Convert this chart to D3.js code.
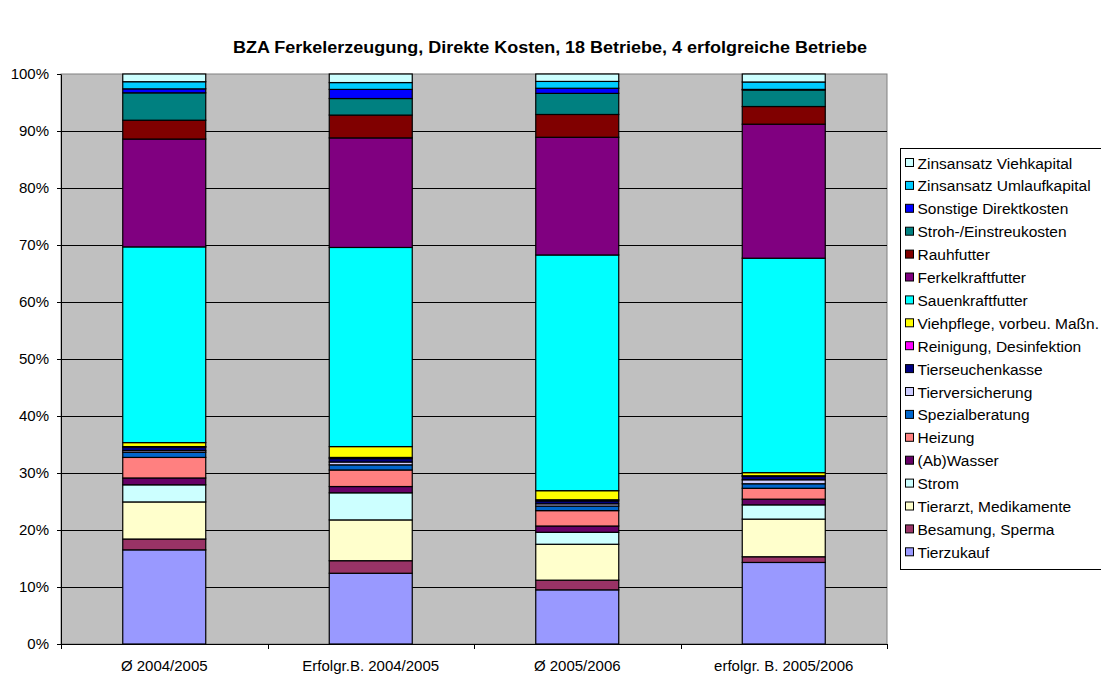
<!DOCTYPE html>
<html>
<head>
<meta charset="utf-8">
<script src="https://cdn.jsdelivr.net/npm/d3@7"></script>
<style>
  body { margin: 0; background: #fff; }
  svg { font-family: "Liberation Sans", Arial, sans-serif; }
</style>
</head>
<body>
<div id="chart"></div>
<script>
// categories on the x axis
var categories = ["Ø 2004/2005", "Erfolgr.B. 2004/2005", "Ø 2005/2006", "erfolgr. B. 2005/2006"];

// series, bottom of the stack first
var seriesNames = [
  "Tierzukauf", "Besamung, Sperma", "Tierarzt, Medikamente", "Strom", "(Ab)Wasser",
  "Heizung", "Spezialberatung", "Tierversicherung", "Tierseuchenkasse",
  "Reinigung, Desinfektion", "Viehpflege, vorbeu. Maßn.", "Sauenkraftfutter",
  "Ferkelkraftfutter", "Rauhfutter", "Stroh-/Einstreukosten", "Sonstige Direktkosten",
  "Zinsansatz Umlaufkapital", "Zinsansatz Viehkapital"
];

var seriesColors = [
  "#9999FF", "#993366", "#FFFFCC", "#CCFFFF", "#660066",
  "#FF8080", "#0066CC", "#CCCCFF", "#000080",
  "#FF00FF", "#FFFF00", "#00FFFF",
  "#800080", "#800000", "#008080", "#0000FF",
  "#00CCFF", "#CCFFFF"
];

// share of costs in %, one value per category
var tierzukauf   = [16.5, 12.4, 9.5, 14.3];
var besamung     = [1.9, 2.2, 1.7, 1.0];
var tierarzt     = [6.5, 7.15, 6.3, 6.6];
var strom        = [3.0, 4.75, 2.1, 2.5];
var wasser       = [1.2, 1.1, 1.1, 1.0];
var heizung      = [3.6, 2.9, 2.7, 1.9];
var spezial      = [0.9, 0.9, 0.8, 0.8];
var versicherung = [0.3, 0.5, 0.4, 0.7];
var seuchen      = [0.6, 0.6, 0.5, 0.6];
var reinigung    = [0.1, 0.2, 0.2, 0.1];
var viehpflege   = [0.7, 1.9, 1.6, 0.55];
var sauenfutter  = [34.3, 34.9, 41.35, 37.6];
var ferkelfutter = [18.9, 19.2, 20.65, 23.5];
var rauhfutter   = [3.3, 4.0, 4.0, 3.1];
var stroh        = [4.8, 2.9, 3.7, 2.9];
var sonstige     = [0.7, 1.6, 0.9, 0.1];
var zinsUmlauf   = [1.25, 1.2, 1.2, 1.3];
var zinsVieh     = [1.35, 1.5, 1.3, 1.4];

var seriesValues = [tierzukauf, besamung, tierarzt, strom, wasser, heizung, spezial,
  versicherung, seuchen, reinigung, viehpflege, sauenfutter, ferkelfutter, rauhfutter,
  stroh, sonstige, zinsUmlauf, zinsVieh];

var yTicks = [0, 0.1, 0.2, 0.3, 0.4, 0.5, 0.6, 0.7, 0.8, 0.9, 1];

// build rows for d3.stack
var rows = categories.map(function(c, i) {
  var r = {cat: c};
  seriesNames.forEach(function(s, j) { r[s] = seriesValues[j][i]; });
  return r;
});

var W = 1101, H = 674;
var margin = {top: 74, left: 61},
    width = 826,
    height = 570;

var svg = d3.select("#chart").append("svg")
    .attr("width", W)
    .attr("height", H);

svg.append("text")
    .attr("x", 550)
    .attr("y", 53)
    .attr("text-anchor", "middle")
    .attr("textLength", 634)
    .attr("lengthAdjust", "spacingAndGlyphs")
    .style("font-size", "16px")
    .style("font-weight", "bold")
    .text("BZA Ferkelerzeugung, Direkte Kosten, 18 Betriebe, 4 erfolgreiche Betriebe");

var g = svg.append("g")
    .attr("transform", "translate(" + margin.left + "," + margin.top + ")");

var x = d3.scaleBand()
    .domain(categories)
    .range([0, width])
    .padding(0);

var y = d3.scaleLinear()
    .domain([0, 1])
    .range([height, 0]);

// plot area
g.append("rect")
    .attr("width", width)
    .attr("height", height)
    .attr("fill", "#C0C0C0")
    .attr("stroke", "#808080")
    .attr("stroke-width", 1);

// gridlines
g.selectAll(".grid")
  .data(yTicks.slice(1, -1))
  .enter().append("line")
    .attr("x1", 0)
    .attr("x2", width)
    .attr("y1", function(d) { return Math.round(y(d)) + 0.5; })
    .attr("y2", function(d) { return Math.round(y(d)) + 0.5; })
    .attr("stroke", "#000")
    .attr("stroke-width", 1);

var stack = d3.stack()
    .keys(seriesNames)
    .offset(d3.stackOffsetExpand);

var layers = stack(rows);
var barW = 83;

g.selectAll(".layer")
  .data(layers)
  .enter().append("g")
    .attr("class", "layer")
    .attr("fill", function(d, i) { return seriesColors[i]; })
  .selectAll("rect")
  .data(function(d) { return d; })
  .enter().append("rect")
    .attr("x", function(d) { return x(d.data.cat) + x.bandwidth() / 2 - barW / 2; })
    .attr("y", function(d) { return y(d[1]); })
    .attr("width", barW)
    .attr("height", function(d) { return y(d[0]) - y(d[1]); })
    .attr("stroke", "#000")
    .attr("stroke-width", 1.2);

// y axis
var yAxis = g.append("g")
    .call(d3.axisLeft(y).tickValues(yTicks).tickFormat(d3.format(".0%")).tickSize(4).tickSizeOuter(0));
yAxis.select(".domain").attr("stroke", "#000");
yAxis.selectAll("text")
    .attr("x", -12)
    .style("font-size", "15px")
    .style("font-family", "Liberation Sans, Arial, sans-serif")
    .attr("fill", "#000");

// x axis: ticks between categories
var xAxis = g.append("g")
    .attr("transform", "translate(0," + height + ")");
xAxis.append("line")
    .attr("x1", 0).attr("x2", width)
    .attr("y1", 0.5).attr("y2", 0.5)
    .attr("stroke", "#000");
xAxis.selectAll(".xtick")
  .data(d3.range(categories.length + 1))
  .enter().append("line")
    .attr("x1", function(i) { return Math.round(i * x.step()) + 0.5; })
    .attr("x2", function(i) { return Math.round(i * x.step()) + 0.5; })
    .attr("y1", 0)
    .attr("y2", 5)
    .attr("stroke", "#000");
xAxis.selectAll(".xlabel")
  .data(categories)
  .enter().append("text")
    .attr("x", function(d) { return x(d) + x.bandwidth() / 2; })
    .attr("y", 27)
    .attr("text-anchor", "middle")
    .style("font-size", "15px")
    .text(function(d) { return d; });

// legend, top entry = top of the stack
var legend = svg.append("g")
    .attr("transform", "translate(900.5,148.5)");
legend.append("rect")
    .attr("width", 230)
    .attr("height", 421)
    .attr("fill", "#fff")
    .attr("stroke", "#000");

var legendItems = seriesNames.map(function(s, i) { return {name: s, color: seriesColors[i]}; }).reverse();

var li = legend.selectAll(".li")
  .data(legendItems)
  .enter().append("g")
    .attr("transform", function(d, i) { return "translate(5," + (15 + i * 22.9) + ")"; });
li.append("rect")
    .attr("x", 0)
    .attr("y", -5)
    .attr("width", 8)
    .attr("height", 8)
    .attr("fill", function(d) { return d.color; })
    .attr("stroke", "#000");
li.append("text")
    .attr("x", 12)
    .attr("y", 5)
    .style("font-size", "15.5px")
    .text(function(d) { return d.name; });
</script>
</body>
</html>
